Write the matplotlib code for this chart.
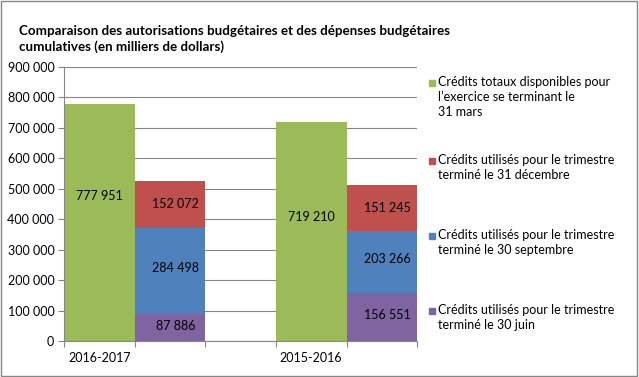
import numpy as np
import matplotlib.pyplot as plt
from matplotlib.patches import Rectangle
from matplotlib.ticker import FuncFormatter

plt.rcParams['font.family'] = ['Lato', 'DejaVu Sans']

years = ['2016-2017', '2015-2016']
totaux = [777951, 719210]
juin = [87886, 156551]
septembre = [284498, 203266]
decembre = [152072, 151245]
# where the labels of the green bars sit in the picture
totaux_label_y = [476000, 407000]

legend_labels = ['Crédits totaux disponibles pour\nl’exercice se terminant le\n31 mars',
                 'Crédits utilisés pour le trimestre\nterminé le 31 décembre',
                 'Crédits utilisés pour le trimestre\nterminé le 30 septembre',
                 'Crédits utilisés pour le trimestre\nterminé le 30 juin']

c_green = '#9BBB59'
c_red = '#C0504D'
c_blue = '#4F81BD'
c_purple = '#8064A2'

def fmt(v):
    return '{:,}'.format(int(v)).replace(',', ' ')

fig = plt.figure(figsize=(6.39, 3.77), dpi=100)
fig.patches.append(Rectangle((0.002, 0.003), 0.995, 0.994, transform=fig.transFigure,
                             fill=False, edgecolor='#868686', linewidth=1))
ax = fig.add_axes([0.1002, 0.0955, 0.5526, 0.7268])

xg = np.array([0, 3])
xs = xg + 1
ax.bar(xg, totaux, width=1.0, color=c_green, zorder=2)
ax.bar(xs, juin, width=1.0, color=c_purple, zorder=2)
ax.bar(xs, septembre, width=1.0, bottom=juin, color=c_blue, zorder=2)
b2 = np.array(juin) + np.array(septembre)
ax.bar(xs, decembre, width=1.0, bottom=b2, color=c_red, zorder=2)

for i in range(2):
    ax.text(xg[i], totaux_label_y[i], fmt(totaux[i]), ha='center', va='center', fontsize=9)
    ax.text(xs[i] + 0.08, juin[i] / 2 + 6000, fmt(juin[i]), ha='center', va='center', fontsize=9)
    ax.text(xs[i] + 0.08, juin[i] + septembre[i] / 2 + 10000, fmt(septembre[i]), ha='center', va='center', fontsize=9)
    ax.text(xs[i] + 0.08, b2[i] + decembre[i] / 2, fmt(decembre[i]), ha='center', va='center', fontsize=9)

ax.set_xlim(-0.5, 4.5)
ax.set_ylim(0, 900000)
ax.set_yticks(np.arange(0, 900001, 100000))
ax.yaxis.set_major_formatter(FuncFormatter(lambda v, p: fmt(v)))
ax.set_xticks([-0.5, 0.5, 1.5, 2.5, 3.5, 4.5])
ax.set_xticklabels([])
ax.set_xticks(xg, years, minor=True)
ax.tick_params(axis='x', which='minor', length=0, pad=8, labelsize=9)
ax.tick_params(axis='x', which='major', length=4, color='#868686')
ax.tick_params(axis='y', length=4, color='#868686', labelsize=9, pad=3)
ax.grid(axis='y', color='#868686', linewidth=0.8, zorder=0)
ax.set_axisbelow(True)
for s in ['top', 'right']:
    ax.spines[s].set_visible(False)
for s in ['left', 'bottom']:
    ax.spines[s].set_color('#868686')

fig.text(0.029, 0.897, 'Comparaison des autorisations budgétaires et des dépenses budgétaires\ncumulatives (en milliers de dollars)',
         fontsize=9.6, fontweight='bold', ha='left', va='center', linespacing=1.3)

leg_colors = [c_green, c_red, c_blue, c_purple]
leg_y = [83, 161, 236, 311]
for col, lab, yy in zip(leg_colors, legend_labels, leg_y):
    fig.patches.append(Rectangle((429 / 639, 1 - (yy + 3) / 377), 6 / 639, 6 / 377,
                                 transform=fig.transFigure, color=col))
    fig.text(438 / 639, 1 - (yy - 7) / 377, lab, fontsize=9, ha='left', va='top', linespacing=1.3)

fig.savefig('out.png', dpi=100)
